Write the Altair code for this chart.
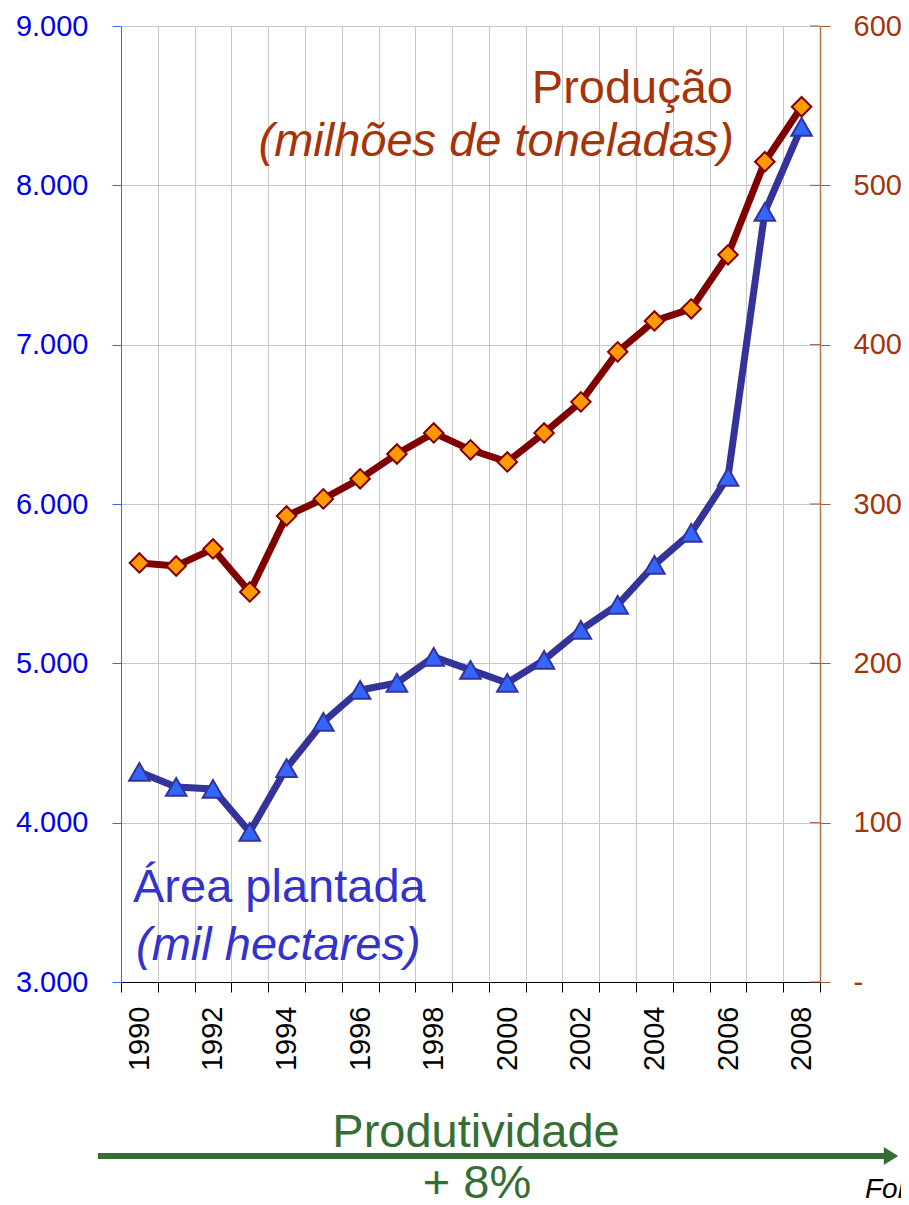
import altair as alt
import pandas as pd

# ---- data ----
years = list(range(1990, 2009))
area_mil_ha = [4318, 4224, 4212, 3942, 4343, 4632, 4833, 4877, 5040, 4959,
               4877, 5021, 5210, 5367, 5618, 5819, 6170, 7834, 8367]
producao_mt = [263.0, 261.1, 271.8, 244.8, 292.5, 303.2, 315.8, 331.4, 344.6, 334.0,
               326.4, 344.6, 364.1, 395.5, 414.9, 422.5, 456.4, 514.8, 549.3]
left_ticks = [3000, 4000, 5000, 6000, 7000, 8000, 9000]
right_ticks = [0, 100, 200, 300, 400, 500, 600]

df = pd.DataFrame({"ano": years, "area": area_mil_ha, "prod": producao_mt})
df_rt = pd.DataFrame({"prod": right_ticks})

FONT = "Liberation Sans"
W, H = 699, 956

x_enc = alt.X(
    "ano:O",
    scale=alt.Scale(paddingInner=0, paddingOuter=0),
    axis=alt.Axis(
        title="", labelAngle=-90,
        labelExpr="datum.value % 2 == 0 ? datum.label : ''",
        labelOverlap=False, labelFontSize=29, labelFont=FONT, labelColor="black",
        labelPadding=14, tickBand="extent", tickSize=10, tickColor="black",
        domainColor="black", domainWidth=1, grid=True, gridColor="#C8C8C8", gridWidth=1,
    ),
)

y_area = alt.Y(
    "area:Q",
    scale=alt.Scale(domain=[3000, 9000], nice=False, zero=False),
    axis=alt.Axis(
        orient="left", values=left_ticks, title="",
        labelExpr="replace(format(datum.value, ','), ',', '.')",
        labelFontSize=29, labelFont=FONT, labelColor="#0000EE", labelPadding=24,
        tickSize=9, tickColor="#3366FF", domainColor="#3366FF", domainWidth=1,
        grid=True, gridColor="#C8C8C8", gridWidth=1,
    ),
)

y_prod = alt.Y(
    "prod:Q",
    scale=alt.Scale(domain=[0, 600], nice=False),
    axis=alt.Axis(
        orient="right", values=right_ticks, title="", grid=False,
        labelExpr="datum.value == 0 ? '-' : datum.label",
        labelFontSize=29, labelFont=FONT, labelColor="#A5340A", labelPadding=23,
        tickSize=10, tickColor="#A9552E", domainColor="#B87050", domainWidth=1.5,
    ),
)

# inner half of the right-axis ticks (they cross the axis line in the reference)
prod_inner_ticks = alt.Chart(df_rt).mark_rule(color="#A9552E", strokeWidth=1).encode(
    y=y_prod, x=alt.value(W - 10), x2=alt.value(W)
)
prod_line = alt.Chart(df).mark_line(color="#800000", strokeWidth=7).encode(x=x_enc, y=y_prod)
prod_pts = alt.Chart(df).mark_point(
    shape="diamond", filled=True, fill="#FF9900", stroke="#800000",
    strokeWidth=2, size=380, opacity=1,
).encode(x=x_enc, y=y_prod)

area_line = alt.Chart(df).mark_line(color="#333399", strokeWidth=7).encode(x=x_enc, y=y_area)
area_pts = alt.Chart(df).mark_point(
    shape="triangle-up", filled=True, fill="#3366FF", stroke="#333399",
    strokeWidth=2, size=420, opacity=1,
).encode(x=x_enc, y=y_area)

prod_group = alt.layer(prod_inner_ticks, prod_line, prod_pts)
area_group = alt.layer(area_line, area_pts)

one = pd.DataFrame({"k": [0]})


def label(text, x, y, color, align="left", italic=False, size=47):
    kw = dict(font=FONT, fontSize=size, color=color, align=align, baseline="alphabetic")
    if italic:
        kw["fontStyle"] = "italic"
    return alt.Chart(one).mark_text(**kw).encode(
        x=alt.value(x), y=alt.value(y), text=alt.value(text)
    )


GREEN = "#356E35"
texts = [
    label("Produção", 612, 77, "#A5340A", align="right"),
    label("(milhões de toneladas)", 613, 130, "#A5340A", align="right", italic=True),
    label("Área plantada", 12, 876, "#3333CC"),
    label("(mil hectares)", 15, 934, "#3333CC", italic=True),
    label("Produtividade", 355, 1121, GREEN, align="center"),
    label("+ 8%", 356, 1172, GREEN, align="center"),
    label("Fonte:", 744, 1172, "black", italic=True, size=28),
]

arrow = alt.Chart(one).mark_rule(color=GREEN, strokeWidth=6).encode(
    x=alt.value(-23), x2=alt.value(764), y=alt.value(1130)
)
arrow_head = alt.Chart(one).mark_point(
    shape="M-0.8,-1L0.8,0L-0.8,1Z", filled=True, color=GREEN, size=324, opacity=1
).encode(x=alt.value(770), y=alt.value(1130))

chart = alt.layer(
    area_group, prod_group, *texts, arrow, arrow_head
).resolve_scale(y="independent").properties(
    width=W, height=H,
    padding={"left": 113, "top": 18, "right": 81, "bottom": 230},
    autosize="none", background="white",
).configure_view(strokeWidth=0)

chart.save("out.html", embed_options={"renderer": "svg", "actions": False})
